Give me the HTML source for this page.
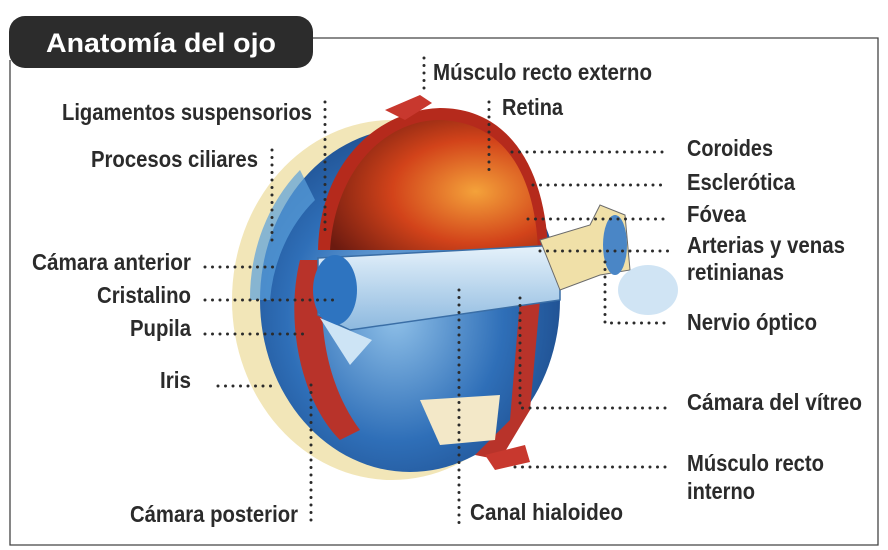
<!DOCTYPE html>
<html><head><meta charset="utf-8"><style>
html,body{margin:0;padding:0;background:#fff}
svg{display:block}
text{font-family:"Liberation Sans",sans-serif;font-weight:bold;font-size:23px;fill:#2b2b2b}
.d{stroke:#2b2b2b;stroke-width:3;stroke-linecap:round;stroke-dasharray:0 7.5;fill:none}
</style></head><body>
<svg width="888" height="550" viewBox="0 0 888 550" xmlns="http://www.w3.org/2000/svg">
<defs>
<radialGradient id="cav" cx="0.7" cy="0.55" r="0.8"><stop offset="0" stop-color="#f4a23a"/><stop offset="0.5" stop-color="#d2431a"/><stop offset="1" stop-color="#6b1a10"/></radialGradient>
<radialGradient id="blu" cx="0.45" cy="0.55" r="0.6"><stop offset="0" stop-color="#8fc0e8"/><stop offset="0.6" stop-color="#2f6fb8"/><stop offset="1" stop-color="#1d4c8c"/></radialGradient>
<linearGradient id="lens" x1="0" y1="0" x2="0" y2="1"><stop offset="0" stop-color="#e6f2fb"/><stop offset="1" stop-color="#8db9df"/></linearGradient>
</defs>
<path d="M300 38 H878 V545 H10 V60" fill="none" stroke="#444" stroke-width="1.3"/>
<rect x="9" y="16" width="304" height="52" rx="16" fill="#2c2c2c"/>
<text x="46" y="52" textLength="230" lengthAdjust="spacingAndGlyphs" style="font-size:27px;fill:#fff">Anatomía del ojo</text>
<ellipse cx="392" cy="300" rx="160" ry="180" fill="#f2e6b8"/>
<ellipse cx="410" cy="300" rx="150" ry="172" fill="url(#blu)"/>
<path d="M250 300 A150 172 0 0 1 300 170 L315 200 A130 150 0 0 0 270 300 Z" fill="#5aa0dc" opacity=".7"/>
<path d="M318 250 C320 160 380 110 440 108 C510 108 545 170 548 250 Z" fill="#b52a1c"/>
<path d="M330 250 C335 170 385 120 440 120 C505 122 535 175 538 250 Z" fill="url(#cav)"/>
<path d="M300 260 C285 320 300 400 340 440 L360 430 C330 390 315 330 325 260 Z" fill="#b8332a"/>
<path d="M520 300 L510 420 L475 455 L500 460 L530 410 L540 300 Z" fill="#b8332a"/>
<path d="M420 400 L500 395 L495 440 L440 445 Z" fill="#f3e8c8"/>
<path d="M318 258 L560 245 L560 300 L350 330 L318 315 Z" fill="url(#lens)" stroke="#3a6ea6" stroke-width="1.5"/>
<ellipse cx="335" cy="290" rx="22" ry="35" fill="#2e74c0"/>
<path d="M320 318 L372 340 L350 365 Z" fill="#cde4f5"/>
<path d="M540 240 L590 225 L600 205 L625 215 L630 270 L600 275 L560 290 Z" fill="#f0e0a8" stroke="#6a6a6a" stroke-width="1"/>
<ellipse cx="615" cy="245" rx="12" ry="30" fill="#4a86c6"/>
<ellipse cx="648" cy="290" rx="30" ry="25" fill="#bcd8f0" opacity=".7"/>
<path d="M385 110 L420 95 L432 103 L405 120 Z" fill="#c8382e"/>
<path d="M485 455 L525 445 L530 462 L495 470 Z" fill="#c8382e"/>
<path class="d" d="M424 58 V95"/>
<path class="d" d="M325 102 V235"/>
<path class="d" d="M489 102 V170"/>
<path class="d" d="M272 150 V245"/>
<path class="d" d="M512 152 H668"/>
<path class="d" d="M533 185 H668"/>
<path class="d" d="M528 219 H668"/>
<path class="d" d="M540 251 H668"/>
<path class="d" d="M205 267 H278"/>
<path class="d" d="M205 300 H337"/>
<path class="d" d="M205 334 H305"/>
<path class="d" d="M218 386 H273"/>
<path class="d" d="M605 262 V323 H668"/>
<path class="d" d="M520 298 V408 H668"/>
<path class="d" d="M515 467 H668"/>
<path class="d" d="M311 385 V523"/>
<path class="d" d="M459 290 V523"/>
<text x="433" y="80" textLength="219" lengthAdjust="spacingAndGlyphs">Músculo recto externo</text>
<text x="62" y="120" textLength="250" lengthAdjust="spacingAndGlyphs">Ligamentos suspensorios</text>
<text x="502" y="115" textLength="61" lengthAdjust="spacingAndGlyphs">Retina</text>
<text x="91" y="167" textLength="167" lengthAdjust="spacingAndGlyphs">Procesos ciliares</text>
<text x="687" y="156" textLength="86" lengthAdjust="spacingAndGlyphs">Coroides</text>
<text x="687" y="190" textLength="108" lengthAdjust="spacingAndGlyphs">Esclerótica</text>
<text x="687" y="222" textLength="59" lengthAdjust="spacingAndGlyphs">Fóvea</text>
<text x="687" y="253" textLength="158" lengthAdjust="spacingAndGlyphs">Arterias y venas</text>
<text x="687" y="280" textLength="97" lengthAdjust="spacingAndGlyphs">retinianas</text>
<text x="32" y="270" textLength="159" lengthAdjust="spacingAndGlyphs">Cámara anterior</text>
<text x="97" y="303" textLength="94" lengthAdjust="spacingAndGlyphs">Cristalino</text>
<text x="130" y="336" textLength="61" lengthAdjust="spacingAndGlyphs">Pupila</text>
<text x="160" y="388" textLength="31" lengthAdjust="spacingAndGlyphs">Iris</text>
<text x="687" y="330" textLength="130" lengthAdjust="spacingAndGlyphs">Nervio óptico</text>
<text x="687" y="410" textLength="175" lengthAdjust="spacingAndGlyphs">Cámara del vítreo</text>
<text x="687" y="471" textLength="137" lengthAdjust="spacingAndGlyphs">Músculo recto</text>
<text x="687" y="499" textLength="68" lengthAdjust="spacingAndGlyphs">interno</text>
<text x="130" y="522" textLength="168" lengthAdjust="spacingAndGlyphs">Cámara posterior</text>
<text x="470" y="520" textLength="153" lengthAdjust="spacingAndGlyphs">Canal hialoideo</text>
</svg>
</body></html>
